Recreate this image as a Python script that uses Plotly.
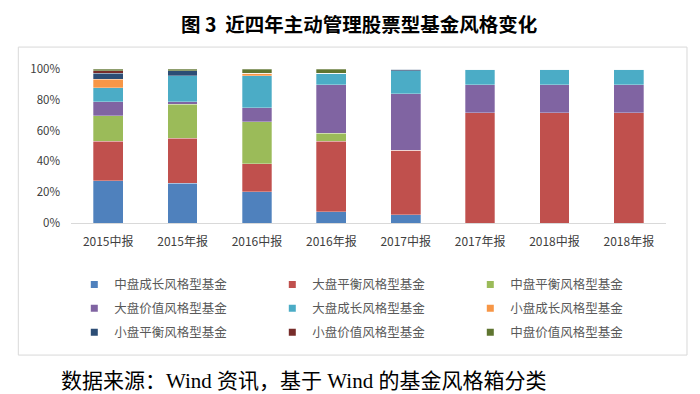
import plotly.graph_objects as go

categories = ["2015中报", "2015年报", "2016中报", "2016年报", "2017中报", "2017年报", "2018中报", "2018年报"]

series_names = ["中盘成长风格型基金", "大盘平衡风格型基金", "中盘平衡风格型基金",
                "大盘价值风格型基金", "大盘成长风格型基金", "小盘成长风格型基金",
                "小盘平衡风格型基金", "小盘价值风格型基金", "中盘价值风格型基金"]

mid_growth   = [27.4, 25.7, 20.3, 7.3, 5.4, 0, 0, 0]
large_bal    = [25.7, 29.2, 18.1, 45.8, 41.9, 71.5, 71.5, 71.5]
mid_bal      = [16.7, 22.2, 27.5, 5.2, 0, 0, 0, 0]
large_value  = [8.8, 1.5, 9.0, 31.5, 36.7, 18.3, 18.3, 18.3]
large_growth = [9.3, 16.9, 20.6, 7.4, 14.9, 10.2, 10.2, 10.2]
small_growth = [5.6, 0, 1.7, 0, 0, 0, 0, 0]
small_bal    = [3.7, 3.4, 0, 0, 1.1, 0, 0, 0]
small_value  = [1.6, 0, 0, 0, 0, 0, 0, 0]
mid_value    = [1.2, 1.1, 2.8, 2.8, 0, 0, 0, 0]

y_tick_values = [0, 20, 40, 60, 80, 100]
y_tick_labels = ["0%", "20%", "40%", "60%", "80%", "100%"]

series_values = [mid_growth, large_bal, mid_bal, large_value, large_growth,
                 small_growth, small_bal, small_value, mid_value]
colors = ["#4F81BD", "#C0504D", "#9BBB59", "#8064A2", "#4BACC6",
          "#F79646", "#2C4D75", "#772C2A", "#5F7530"]
legend_ids = ["legend", "legend", "legend", "legend2", "legend2", "legend2",
              "legend3", "legend3", "legend3"]

# The page body has an 8px margin, so figure pixel = page pixel - 8
OFF = 8
W, H = 700 - OFF, 394 - OFF
plot_x0, plot_x1 = 70.7 - OFF, 666 - OFF
plot_y0, plot_y1 = 69 - OFF, 223.5 - OFF
L, R, T, B = plot_x0, W - plot_x1, plot_y0, H - plot_y1
pw, ph = plot_x1 - plot_x0, plot_y1 - plot_y0

def px_x(x):  # page px -> paper
    return (x - OFF - L) / pw

def px_y(y):
    return (plot_y1 - (y - OFF)) / ph

fig = go.Figure()
for name, vals, col in zip(series_names, series_values, colors):
    fig.add_trace(go.Bar(
        x=categories, y=vals, name=name, showlegend=False,
        marker=dict(color=col, line=dict(color="rgba(255,255,255,0.6)", width=0.5)),
    ))
# legend entries (small square swatches like the reference)
for name, col, lg in zip(series_names, colors, legend_ids):
    fig.add_trace(go.Scatter(
        x=[None], y=[None], mode="markers", name=name, legend=lg,
        marker=dict(symbol="square", size=7, color=col),
    ))

legend_font = dict(family="Noto Sans CJK SC", size=12.5, color="#595959")
common_legend = dict(orientation="h", xanchor="left", yanchor="middle",
                     entrywidth=153, entrywidthmode="pixels", font=legend_font,
                     bgcolor="rgba(0,0,0,0)", itemclick=False, itemdoubleclick=False,
                     traceorder="normal")

fig.update_layout(
    width=W, height=H,
    margin=dict(l=L, r=R, t=T, b=B, pad=0),
    barmode="stack", bargap=0.6,
    plot_bgcolor="white", paper_bgcolor="white",
    showlegend=True,
    legend=dict(x=px_x(74), y=px_y(285.5), **common_legend),
    legend2=dict(x=px_x(74), y=px_y(309.5), **common_legend),
    legend3=dict(x=px_x(74), y=px_y(333.5), **common_legend),
    xaxis=dict(showline=True, linecolor="#D9D9D9", linewidth=1, ticks="",
               ticklabelstandoff=8,
               tickfont=dict(family="Noto Sans CJK SC", size=12, color="#404040"),
               showgrid=False),
    yaxis=dict(range=[0, 100], tickvals=y_tick_values, ticktext=y_tick_labels,
               ticklabelstandoff=10,
               showgrid=False, zeroline=False, showline=False, ticks="",
               tickfont=dict(family="Noto Sans CJK SC", size=11.5, color="#404040")),
    shapes=[dict(type="rect", xref="paper", yref="paper",
                 x0=px_x(18), x1=px_x(687), y0=px_y(356), y1=px_y(47),
                 line=dict(color="#D9D9D9", width=1), fillcolor="rgba(0,0,0,0)", layer="below")],
    annotations=[
        dict(text="<b>图 3  近四年主动管理股票型基金风格变化</b>", xref="paper", yref="paper",
             x=px_x(359), y=px_y(23), xanchor="center", yanchor="middle", showarrow=False,
             font=dict(family="Noto Sans CJK SC", size=19.5, color="#000000")),
        dict(text="数据来源：Wind 资讯，基于 Wind 的基金风格箱分类", xref="paper", yref="paper",
             x=px_x(59), y=px_y(382), xanchor="left", yanchor="middle", showarrow=False,
             font=dict(family="Liberation Serif, Noto Sans CJK SC", size=21, color="#000000")),
    ],
)

fig.write_html("out.html")
